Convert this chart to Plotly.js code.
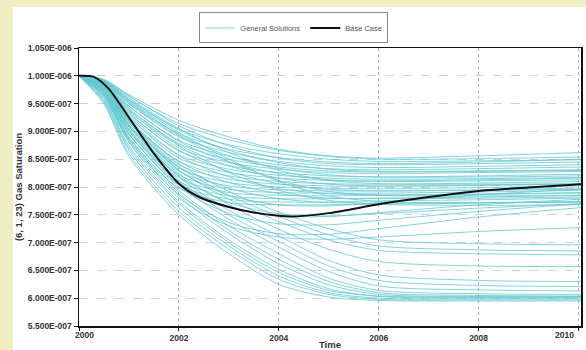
<!DOCTYPE html>
<html>
<head>
<meta charset="utf-8">
<script src="https://cdn.plot.ly/plotly-3.0.1.min.js"></script>
<style>
  html, body { margin: 0; padding: 0; background: #f1edc2; width: 586px; height: 350px; overflow: hidden; }
  #chart { position: absolute; left: 13px; top: 7px; width: 573px; height: 343px; background: #fff; }
</style>
</head>
<body>
<div id="chart"></div>
<script>
// Sample times (years) for the general solution curves
const years = [2000, 2000.5, 2001, 2002, 2003, 2004, 2005, 2006, 2008, 2010.05];

// General solutions, values in units of 1E-007
const gs01 = [10, 9.93, 9.66, 9.20, 8.90, 8.68, 8.56, 8.52, 8.56, 8.62];
const gs02 = [10, 9.92, 9.63, 9.14, 8.85, 8.66, 8.55, 8.50, 8.51, 8.54];
const gs03 = [10, 9.91, 9.58, 9.04, 8.76, 8.60, 8.50, 8.46, 8.47, 8.49];
const gs04 = [10, 9.93, 9.64, 9.10, 8.74, 8.52, 8.42, 8.40, 8.42, 8.45];
const gs05 = [10, 9.89, 9.52, 8.96, 8.68, 8.53, 8.45, 8.42, 8.45, 8.50];
const gs06 = [10, 9.89, 9.50, 8.90, 8.62, 8.46, 8.38, 8.35, 8.37, 8.40];
const gs07 = [10, 9.91, 9.57, 9.02, 8.66, 8.44, 8.32, 8.28, 8.29, 8.31];
const gs08 = [10, 9.87, 9.45, 8.84, 8.55, 8.40, 8.33, 8.31, 8.33, 8.36];
const gs09 = [10, 9.87, 9.42, 8.78, 8.50, 8.36, 8.29, 8.27, 8.28, 8.30];
const gs10 = [10, 9.90, 9.54, 8.94, 8.56, 8.34, 8.22, 8.18, 8.18, 8.20];
const gs11 = [10, 9.85, 9.38, 8.70, 8.44, 8.32, 8.26, 8.24, 8.26, 8.28];
const gs12 = [10, 9.84, 9.34, 8.65, 8.38, 8.26, 8.20, 8.18, 8.20, 8.23];
const gs13 = [10, 9.88, 9.46, 8.82, 8.45, 8.24, 8.13, 8.10, 8.11, 8.13];
const gs14 = [10, 9.83, 9.30, 8.58, 8.32, 8.21, 8.16, 8.14, 8.15, 8.17];
const gs15 = [10, 9.82, 9.27, 8.52, 8.26, 8.16, 8.12, 8.11, 8.13, 8.16];
const gs16 = [10, 9.86, 9.40, 8.76, 8.38, 8.16, 8.05, 8.02, 8.03, 8.05];
const gs17 = [10, 9.80, 9.23, 8.46, 8.20, 8.10, 8.06, 8.05, 8.07, 8.10];
const gs18 = [10, 9.79, 9.20, 8.40, 8.14, 8.05, 8.02, 8.01, 8.03, 8.06];
const gs19 = [10, 9.83, 9.32, 8.66, 8.28, 8.06, 7.96, 7.93, 7.94, 7.96];
const gs20 = [10, 9.78, 9.16, 8.34, 8.08, 8.00, 7.98, 7.97, 7.99, 8.02];
const gs21 = [10, 9.76, 9.12, 8.28, 8.02, 7.95, 7.93, 7.93, 7.95, 7.98];
const gs22 = [10, 9.81, 9.25, 8.56, 8.18, 7.97, 7.88, 7.86, 7.87, 7.89];
const gs23 = [10, 9.74, 9.08, 8.22, 7.96, 7.90, 7.89, 7.89, 7.91, 7.94];
const gs24 = [10, 9.73, 9.04, 8.16, 7.90, 7.85, 7.84, 7.85, 7.87, 7.90];
const gs25 = [10, 9.78, 9.18, 8.46, 8.08, 7.88, 7.80, 7.79, 7.80, 7.82];
const gs26 = [10, 9.71, 9.00, 8.10, 7.84, 7.79, 7.79, 7.80, 7.82, 7.85];
const gs27 = [10, 9.69, 8.95, 8.04, 7.78, 7.73, 7.73, 7.75, 7.77, 7.80];
const gs28 = [10, 9.76, 9.12, 8.36, 7.98, 7.79, 7.72, 7.71, 7.72, 7.74];
const gs29 = [10, 9.67, 8.90, 7.98, 7.72, 7.68, 7.68, 7.69, 7.71, 7.73];
const gs30 = [10, 9.92, 9.60, 9.05, 8.62, 8.30, 8.12, 8.06, 8.05, 8.06];
const gs31 = [10, 9.89, 9.50, 8.92, 8.46, 8.12, 7.92, 7.85, 7.84, 7.85];
const gs32 = [10, 9.90, 9.55, 8.98, 8.50, 8.10, 7.84, 7.74, 7.72, 7.73];
const gs33 = [10, 9.85, 9.36, 8.74, 8.26, 7.94, 7.76, 7.69, 7.67, 7.68];
const gs34 = [10, 9.79, 9.20, 8.30, 7.85, 7.68, 7.66, 7.72, 7.86, 7.96];
const gs35 = [10, 9.72, 9.02, 8.08, 7.64, 7.48, 7.47, 7.54, 7.68, 7.78];
const gs36 = [10, 9.69, 8.96, 8.00, 7.52, 7.34, 7.32, 7.40, 7.56, 7.70];
const gs37 = [10, 9.65, 8.86, 7.86, 7.36, 7.16, 7.15, 7.25, 7.46, 7.63];
const gs38 = [10, 9.62, 8.80, 7.80, 7.30, 7.10, 7.06, 7.10, 7.20, 7.27];
const gs39 = [10, 9.75, 9.10, 8.20, 7.72, 7.52, 7.48, 7.52, 7.62, 7.70];
const gs40 = [10, 9.49, 8.55, 7.50, 6.80, 6.25, 6.02, 5.96, 5.95, 5.95];
const gs41 = [10, 9.52, 8.60, 7.56, 6.88, 6.34, 6.07, 5.98, 5.97, 5.97];
const gs42 = [10, 9.55, 8.66, 7.63, 6.94, 6.40, 6.10, 6.00, 5.99, 5.99];
const gs43 = [10, 9.59, 8.74, 7.74, 7.05, 6.52, 6.17, 6.03, 6.01, 6.01];
const gs44 = [10, 9.63, 8.82, 7.84, 7.16, 6.62, 6.24, 6.07, 6.03, 6.03];
const gs45 = [10, 9.66, 8.88, 7.94, 7.30, 6.80, 6.36, 6.14, 6.08, 6.07];
const gs46 = [10, 9.69, 8.94, 8.04, 7.42, 6.92, 6.48, 6.22, 6.15, 6.13];
const gs47 = [10, 9.71, 9.00, 8.12, 7.50, 7.02, 6.58, 6.32, 6.23, 6.21];
const gs48 = [10, 9.73, 9.04, 8.18, 7.58, 7.12, 6.68, 6.42, 6.32, 6.30];
const gs49 = [10, 9.74, 9.08, 8.24, 7.68, 7.24, 6.88, 6.66, 6.58, 6.57];
const gs50 = [10, 9.76, 9.12, 8.30, 7.78, 7.38, 7.05, 6.86, 6.80, 6.78];
const gs51 = [10, 9.78, 9.16, 8.36, 7.85, 7.47, 7.14, 6.94, 6.87, 6.85];
const gs52 = [10, 9.79, 9.20, 8.42, 7.92, 7.55, 7.25, 7.05, 6.98, 6.96];
const gs53 = [10, 9.57, 8.70, 7.70, 7.00, 6.46, 6.14, 6.04, 6.02, 6.02];
const gs54 = [10, 9.64, 8.85, 7.90, 7.22, 6.70, 6.30, 6.10, 6.05, 6.04];

const generalSolutions = [gs01, gs02, gs03, gs04, gs05, gs06, gs07, gs08, gs09, gs10,
  gs11, gs12, gs13, gs14, gs15, gs16, gs17, gs18, gs19, gs20, gs21, gs22, gs23, gs24,
  gs25, gs26, gs27, gs28, gs29, gs30, gs31, gs32, gs33, gs34, gs35, gs36, gs37, gs38,
  gs39, gs40, gs41, gs42, gs43, gs44, gs45, gs46, gs47, gs48, gs49, gs50, gs51, gs52,
  gs53, gs54];

// Base case
const baseYears = [2000, 2000.3, 2000.6, 2001, 2001.5, 2002, 2002.4, 2003, 2003.5, 2004.2, 2005, 2006, 2007, 2008, 2009, 2010.05];
const baseCase  = [10, 9.98, 9.76, 9.25, 8.60, 8.06, 7.82, 7.64, 7.54, 7.47, 7.53, 7.69, 7.82, 7.93, 7.99, 8.05];

// Axis ticks
const yTickVals = [5.5, 6.0, 6.5, 7.0, 7.5, 8.0, 8.5, 9.0, 9.5, 10.0, 10.5];
const yTickText = ["5.500E-007", "6.000E-007", "6.500E-007", "7.000E-007", "7.500E-007",
  "8.000E-007", "8.500E-007", "9.000E-007", "9.500E-007", "1.000E-006", "1.050E-006"];
const xTickVals = [2000, 2002, 2004, 2006, 2008, 2010];
const xTickText = ["2000", "2002", "2004", "2006", "2008", "2010"];

const cyan = 'rgba(100,200,210,0.8)';
const traces = generalSolutions.map((vals, i) => ({
  x: years, y: vals, type: 'scatter', mode: 'lines',
  line: { color: cyan, width: 1, shape: 'spline', smoothing: 0.8 },
  name: 'General Solutions', legendgroup: 'gs', showlegend: i === 0,
  hoverinfo: 'skip'
}));
traces.push({
  x: baseYears, y: baseCase, type: 'scatter', mode: 'lines',
  line: { color: '#111', width: 2, shape: 'spline', smoothing: 0.7 },
  name: 'Base Case', showlegend: true
});

const fontFam = 'Liberation Sans, Arial, sans-serif';
const tickFont = { family: fontFam, size: 8.5, color: '#333', weight: 'bold' };

// End tick labels are drawn inset like the original; the middle ones via the axis
const axisTickText = xTickText.map((t, i) => (i === 0 || i === xTickText.length - 1) ? '' : t);
const annotations = [
  { xref: 'x', yref: 'paper', x: xTickVals[0], y: 0, yanchor: 'top', xanchor: 'center',
    xshift: 5, yshift: -2, text: xTickText[0], showarrow: false, font: tickFont },
  { xref: 'x', yref: 'paper', x: xTickVals[xTickVals.length - 1], y: 0, yanchor: 'top', xanchor: 'center',
    xshift: -14, yshift: -2, text: xTickText[xTickText.length - 1], showarrow: false, font: tickFont }
];

const layout = {
  width: 573, height: 343,
  paper_bgcolor: '#ffffff', plot_bgcolor: '#ffffff',
  margin: { l: 66, r: 5, t: 38, b: 24 },
  showlegend: true,
  annotations: annotations,
  legend: {
    orientation: 'h', x: 0.428, xanchor: 'center', y: 1.128, yanchor: 'top',
    bordercolor: '#8a8a8a', borderwidth: 1, bgcolor: '#fff',
    font: { family: fontFam, size: 7.5, color: '#555' },
    traceorder: 'normal', itemwidth: 30
  },
  xaxis: {
    range: [2000, 2010.05], tickvals: xTickVals, ticktext: axisTickText,
    showline: true, linecolor: '#111', linewidth: 1.5, mirror: true,
    ticks: 'outside', ticklen: 3, tickcolor: '#111',
    showgrid: true, gridcolor: '#b4b4b4', griddash: 'dot', gridwidth: 1,
    zeroline: false,
    tickfont: tickFont,
    title: { text: 'Time', font: { family: fontFam, size: 9.5, color: '#333', weight: 'bold' }, standoff: 3 }
  },
  yaxis: {
    range: [5.5, 10.5], tickvals: yTickVals, ticktext: yTickText,
    showline: true, linecolor: '#111', linewidth: 1.5, mirror: true,
    ticks: 'outside', ticklen: 4, tickcolor: '#111',
    showgrid: true, gridcolor: '#d2d2d2', griddash: 'dash', gridwidth: 1,
    zeroline: false,
    tickfont: tickFont,
    title: { text: '(6, 1, 23) Gas Saturation', font: { family: fontFam, size: 9.5, color: '#333', weight: 'bold' }, standoff: 4 }
  }
};

Plotly.newPlot('chart', traces, layout, { displayModeBar: false, staticPlot: true });
</script>
</body>
</html>
